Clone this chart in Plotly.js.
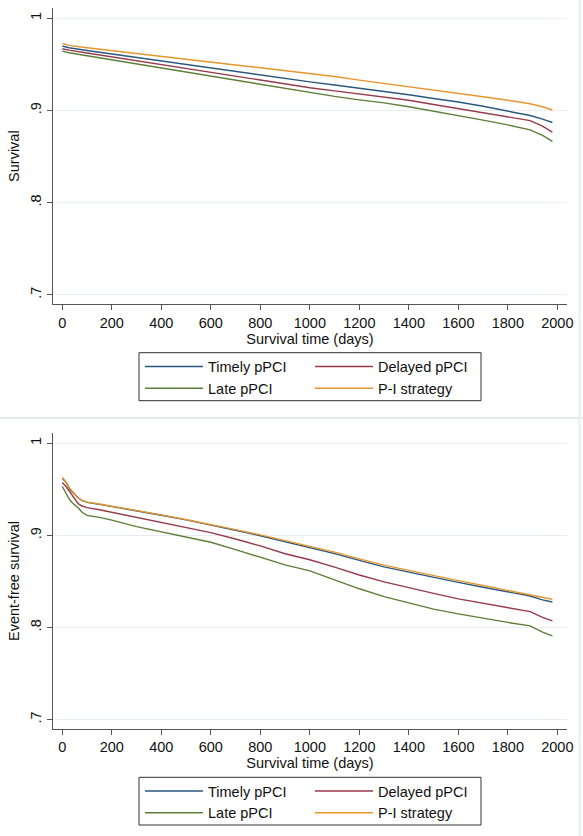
<!DOCTYPE html>
<html>
<head>
<meta charset="utf-8">
<script src="https://cdn.plot.ly/plotly-3.0.1.min.js"></script>
<style>
html,body{margin:0;padding:0;background:#fff;}
#chart{width:583px;height:836px;}
</style>
</head>
<body>
<div id="chart"></div>
<script>
// ---------- data ----------
const seriesNames = ["Timely pPCI", "Delayed pPCI", "Late pPCI", "P-I strategy"];
const xTickVals = [0, 200, 400, 600, 800, 1000, 1200, 1400, 1600, 1800, 2000];
const yTickVals = [0.7, 0.8, 0.9, 1];
const yTickText = [".7", ".8", ".9", "1"];

// Panel 1: overall survival
const days1 = [0, 27, 100, 200, 300, 400, 500, 600, 700, 800, 900, 1000, 1100, 1200, 1300, 1400, 1500, 1600, 1700, 1800, 1890, 1940, 1980];
const surv1Timely  = [.9698, .9680, .9650, .9612, .9575, .9535, .9495, .9458, .9420, .9385, .9348, .9310, .9275, .9240, .9210, .9170, .9130, .9092, .9045, .8995, .8945, .8905, .8869];
const surv1Delayed = [.9669, .9654, .9622, .9580, .9540, .9497, .9455, .9415, .9372, .9330, .9290, .9246, .9212, .9180, .9147, .9110, .9065, .9022, .8978, .8935, .8890, .8830, .8764];
const surv1Late    = [.9643, .9625, .9592, .9548, .9503, .9458, .9413, .9368, .9323, .9278, .9233, .9188, .9152, .9115, .9082, .9040, .8992, .8948, .8895, .8843, .8790, .8730, .8665];
const surv1PI      = [.9727, .9705, .9680, .9650, .9617, .9585, .9555, .9525, .9493, .9462, .9432, .9400, .9368, .9328, .9293, .9260, .9222, .9185, .9148, .9110, .9073, .9040, .9005];

// Panel 2: event-free survival
const days2 = [0, 15, 31, 50, 64, 80, 100, 150, 200, 300, 400, 500, 600, 700, 800, 900, 1000, 1100, 1200, 1300, 1400, 1500, 1600, 1700, 1800, 1890, 1940, 1980];
const surv2Timely  = [.9620, .9575, .9500, .9445, .9405, .9378, .9357, .9336, .9314, .9266, .9218, .9168, .9115, .9055, .8995, .8932, .8870, .8802, .8728, .8658, .8601, .8543, .8490, .8437, .8387, .8342, .8300, .8277];
const surv2Delayed = [.9574, .9530, .9470, .9390, .9343, .9318, .9300, .9278, .9250, .9190, .9135, .9080, .9030, .8960, .8885, .8800, .8735, .8655, .8570, .8495, .8430, .8370, .8310, .8262, .8215, .8172, .8110, .8071];
const surv2Late    = [.9530, .9460, .9380, .9330, .9300, .9250, .9217, .9195, .9165, .9095, .9040, .8985, .8925, .8845, .8760, .8680, .8615, .8515, .8420, .8335, .8265, .8200, .8148, .8098, .8055, .8017, .7950, .7909];
const surv2PI      = [.9628, .9580, .9506, .9450, .9408, .9380, .9360, .9340, .9318, .9270, .9222, .9172, .9120, .9062, .9005, .8945, .8885, .8818, .8745, .8676, .8620, .8562, .8508, .8455, .8405, .8360, .8330, .8307];

const yTitle1 = "Survival";
const yTitle2 = "Event-free survival";
const xTitle = "Survival time (days)";

// ---------- styling ----------
const W = 583, H = 836;
const colors = ["#2a5880", "#983a4c", "#5c7f37", "#e8962c"];
const FONT = "Liberation Sans, Arial, Helvetica, sans-serif";
const FS = 14.5;
const px = v => v / W;
const py = v => (H - v) / H;

function mk(x, y, idx, xa, ya, leg) {
  return {
    x: x, y: y, type: "scatter", mode: "lines",
    line: {shape: "linear", color: colors[idx], width: 1.4},
    name: seriesNames[idx], xaxis: xa, yaxis: ya,
    legend: leg, showlegend: true, hoverinfo: "skip"
  };
}

const data = [
  mk(days1, surv1Timely, 0, "x", "y", "legend"),
  mk(days1, surv1Late, 2, "x", "y", "legend"),
  mk(days1, surv1Delayed, 1, "x", "y", "legend2"),
  mk(days1, surv1PI, 3, "x", "y", "legend2"),
  mk(days2, surv2Timely, 0, "x2", "y2", "legend3"),
  mk(days2, surv2Late, 2, "x2", "y2", "legend3"),
  mk(days2, surv2Delayed, 1, "x2", "y2", "legend4"),
  mk(days2, surv2PI, 3, "x2", "y2", "legend4")
];

const axisColor = "#555555";
function xAx(anchor) {
  return {
    domain: [px(53), px(567)], range: [-37.6, 2039], anchor: anchor,
    tickmode: "array", tickvals: xTickVals,
    ticks: "outside", ticklen: 5, tickcolor: axisColor, tickwidth: 1,
    showline: true, linecolor: axisColor, linewidth: 1.3,
    showgrid: false, zeroline: false,
    tickfont: {family: FONT, size: FS, color: "#111"},
    title: {text: xTitle, font: {family: FONT, size: FS, color: "#111"}, standoff: 2}
  };
}
function yAx(anchor, dom, title) {
  return {
    domain: dom, range: [0.6902, 1.0107], anchor: anchor,
    tickmode: "array", tickvals: yTickVals, ticktext: yTickText, tickangle: -90,
    ticks: "outside", ticklen: 5, tickcolor: axisColor, tickwidth: 1,
    showline: true, linecolor: axisColor, linewidth: 1.3,
    showgrid: true, gridcolor: "#e6eef0", gridwidth: 1, zeroline: false,
    tickfont: {family: FONT, size: FS, color: "#111"},
    title: {text: title, font: {family: FONT, size: FS, color: "#111"}, standoff: 4}
  };
}

function leg(xp, yp) {
  return {
    x: px(xp), y: py(yp), xanchor: "left", yanchor: "top",
    orientation: "v", bgcolor: "rgba(0,0,0,0)", borderwidth: 0,
    itemwidth: 58, font: {family: FONT, size: FS, color: "#111"},
    itemclick: false, itemdoubleclick: false
  };
}

const layout = {
  width: W, height: H,
  margin: {l: 0, r: 0, t: 0, b: 0},
  paper_bgcolor: "#ffffff", plot_bgcolor: "#ffffff",
  font: {family: FONT, size: FS, color: "#111"},
  xaxis: xAx("y"),
  yaxis: yAx("x", [py(304), py(8.3)], yTitle1),
  xaxis2: xAx("y2"),
  yaxis2: yAx("x2", [py(728.7), py(433.3)], yTitle2),
  legend: leg(140, 350.5),
  legend2: leg(310, 350.5),
  legend3: leg(140, 775),
  legend4: leg(310, 775),
  shapes: [
    {type: "rect", xref: "paper", yref: "paper", x0: px(139), x1: px(481), y0: py(400.7), y1: py(352.7), line: {color: "#333", width: 1}},
    {type: "rect", xref: "paper", yref: "paper", x0: px(139), x1: px(481), y0: py(825), y1: py(777.3), line: {color: "#333", width: 1}},
    {type: "line", xref: "paper", yref: "paper", x0: 0, x1: 1, y0: py(418), y1: py(418), line: {color: "#e4ebed", width: 2}},
    {type: "line", xref: "paper", yref: "paper", x0: px(579.5), x1: px(579.5), y0: 0, y1: 1, line: {color: "#edf2f3", width: 3}}
  ]
};

Plotly.newPlot("chart", data, layout, {displayModeBar: false, staticPlot: true});
</script>
</body>
</html>
